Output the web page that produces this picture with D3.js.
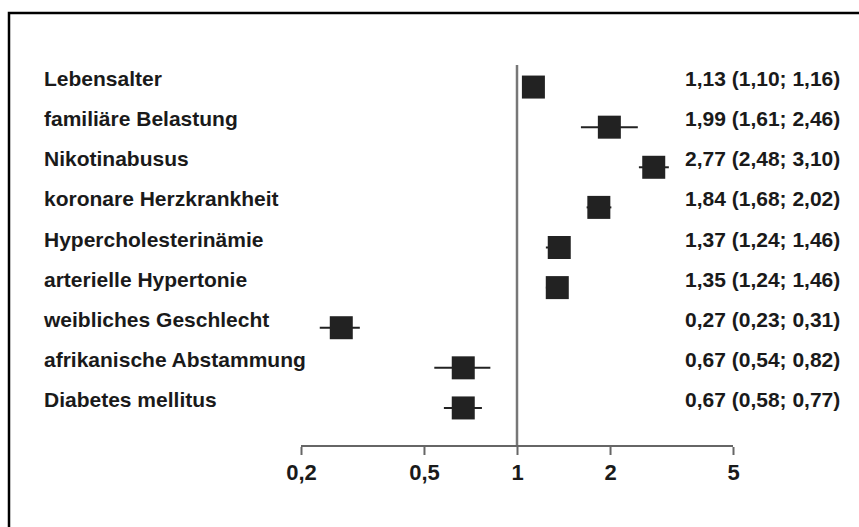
<!DOCTYPE html>
<html>
<head>
<meta charset="utf-8">
<script src="https://cdn.jsdelivr.net/npm/d3@7"></script>
<style>
  body { margin: 0; background: #fff; }
  text { font-family: "Liberation Sans", Arial, sans-serif; font-weight: bold; fill: #1a1a1a; }
</style>
</head>
<body>
<div id="vis"></div>
<script>
// Forest plot: odds ratios with 95% CI
var labels = ["Lebensalter", "familiäre Belastung", "Nikotinabusus", "koronare Herzkrankheit",
    "Hypercholesterinämie", "arterielle Hypertonie", "weibliches Geschlecht",
    "afrikanische Abstammung", "Diabetes mellitus"];
var estimates = [1.13, 1.99, 2.77, 1.84, 1.37, 1.35, 0.27, 0.67, 0.67];
var lower = [1.10, 1.61, 2.48, 1.68, 1.24, 1.24, 0.23, 0.54, 0.58];
var upper = [1.16, 2.46, 3.10, 2.02, 1.46, 1.46, 0.31, 0.82, 0.77];
var tickValues = [0.2, 0.5, 1, 2, 5];
var tickLabels = ["0,2", "0,5", "1", "2", "5"];

var width = 859, height = 527;

var svg = d3.select("#vis").append("svg").attr("width", width).attr("height", height);

// frame (cropped at the right and bottom)
svg.append("path").attr("d", "M9,527V13H859").attr("fill", "none").attr("stroke", "#000").attr("stroke-width", 2.5);

var x = d3.scaleLog().domain([0.2, 5]).range([301, 733]);
var y = d3.scaleBand().domain(d3.range(labels.length)).range([67, 428]);
var cy = function (i) { return y(i) + y.bandwidth() / 2; };

function fmt(v) { return d3.format(".2f")(v).replace(".", ","); }

// reference line at 1
svg.append("line").attr("x1", x(1)).attr("x2", x(1)).attr("y1", 65).attr("y2", 446)
    .attr("stroke", "#777").attr("stroke-width", 2.5);

// axis
var axis = d3.axisBottom(x).tickValues(tickValues).tickFormat(function (d, i) { return tickLabels[i]; })
    .tickSize(9).tickPadding(9);
var gx = svg.append("g").attr("transform", "translate(0,446)").call(axis);
gx.select(".domain").attr("stroke", "#666").attr("stroke-width", 2).attr("d", "M301,0H733");
gx.selectAll(".tick line").attr("stroke", "#666").attr("stroke-width", 2).attr("y1", 1);
gx.selectAll(".tick text").attr("fill", "#1a1a1a")
    .style("font-size", "22px").style("font-weight", "bold");

var rows = svg.append("g").selectAll("g").data(labels).join("g");

rows.append("text").attr("x", 44).attr("y", function (d, i) { return cy(i) - 1; })
    .style("font-size", "21px").text(function (d) { return d; });

rows.append("line")
    .attr("x1", function (d, i) { return x(lower[i]); })
    .attr("x2", function (d, i) { return x(upper[i]); })
    .attr("y1", function (d, i) { return cy(i); })
    .attr("y2", function (d, i) { return cy(i); })
    .attr("stroke", "#222").attr("stroke-width", 2);

var sq = 23;
rows.append("rect")
    .attr("x", function (d, i) { return x(estimates[i]) - sq / 2; })
    .attr("y", function (d, i) { return cy(i) - sq / 2; })
    .attr("width", sq).attr("height", sq).attr("fill", "#222");

rows.append("text").attr("x", 685).attr("y", function (d, i) { return cy(i) - 1; })
    .style("font-size", "21px")
    .text(function (d, i) { return fmt(estimates[i]) + " (" + fmt(lower[i]) + "; " + fmt(upper[i]) + ")"; });
</script>
</body>
</html>
